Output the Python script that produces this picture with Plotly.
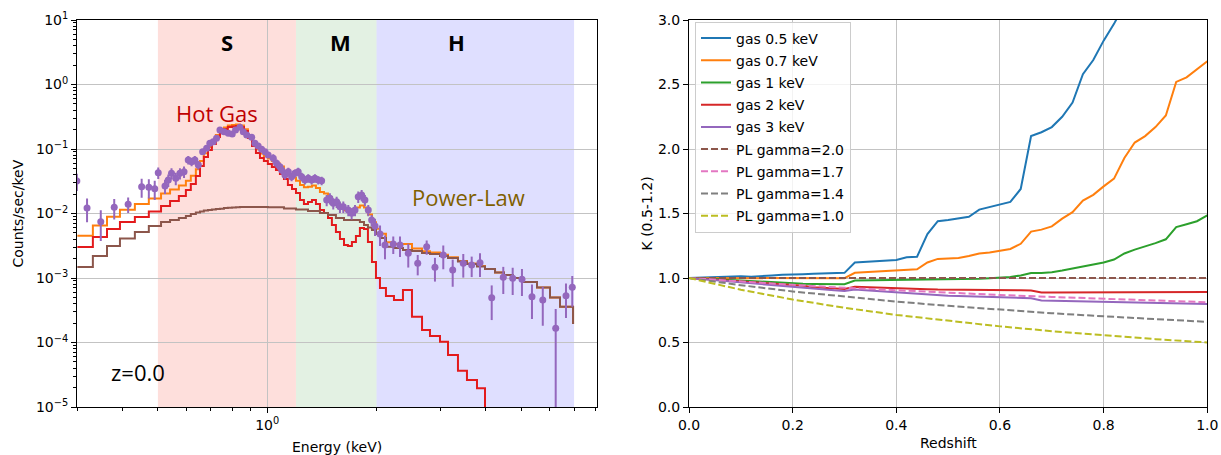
import math
import plotly.graph_objects as go

# ---------------- Left panel: spectrum ----------------
bin_lo_keV = [0.300, 0.331, 0.362, 0.393, 0.432, 0.472, 0.510, 0.540, 0.571, 0.597,
              0.616, 0.636, 0.653, 0.669, 0.687, 0.704, 0.722, 0.741, 0.760, 0.779,
              0.800, 0.820, 0.841, 0.863, 0.885, 0.908, 0.931, 0.955, 0.979, 1.004,
              1.030, 1.057, 1.084, 1.112, 1.140, 1.170, 1.200, 1.231, 1.262, 1.295,
              1.328, 1.362, 1.397, 1.433, 1.470, 1.507, 1.546, 1.586, 1.627, 1.668,
              1.711, 1.755, 1.800, 1.847, 1.894, 1.943, 1.993, 2.044, 2.123, 2.234,
              2.365, 2.504, 2.669, 2.807, 2.991, 3.147, 3.352, 3.549, 3.782, 3.979,
              4.240, 4.489, 4.753, 5.063, 5.534, 6.009, 6.403, 6.955]
bin_end_keV = 7.0

total_model = [0.00450, 0.00651, 0.00888, 0.01147, 0.01399, 0.01715, 0.0205, 0.0235, 0.0272, 0.0323,
               0.0384, 0.0485, 0.0653, 0.0863, 0.1078, 0.1315, 0.1647, 0.189, 0.216, 0.231,
               0.235, 0.240, 0.232, 0.203, 0.161, 0.124, 0.0993, 0.0851, 0.0778, 0.0710,
               0.0651, 0.0597, 0.0534, 0.0462, 0.0396, 0.0360, 0.0323, 0.0277, 0.0255, 0.0260,
               0.0271, 0.0249, 0.0215, 0.0204, 0.0180, 0.0161, 0.0137, 0.0125, 0.0112, 0.0111,
               0.0115, 0.0124, 0.0133, 0.0124, 0.00968, 0.00732, 0.00581, 0.00487, 0.00358, 0.00338,
               0.00337, 0.00287, 0.00260, 0.00249, 0.00229, 0.00210, 0.00184, 0.00168, 0.00153, 0.00138,
               0.00122, 0.00111, 0.00100, 0.000867, 0.000713, 0.000498, 0.000359, 0.000200]

gas_model = [0.00302, 0.00432, 0.00575, 0.00738, 0.00883, 0.01075, 0.0131, 0.0156, 0.0187, 0.0231,
             0.0286, 0.0381, 0.0545, 0.0752, 0.0965, 0.120, 0.153, 0.177, 0.204, 0.219,
             0.223, 0.227, 0.219, 0.190, 0.148, 0.111, 0.0867, 0.0725, 0.0652, 0.0585,
             0.0526, 0.0472, 0.0409, 0.0342, 0.0276, 0.0240, 0.0208, 0.0162, 0.0140, 0.0151,
             0.0162, 0.0140, 0.0113, 0.0102, 0.00852, 0.00663, 0.00516, 0.00402, 0.00324, 0.00313,
             0.00361, 0.00448, 0.00596, 0.00575, 0.00361, 0.00177, 0.00100, 0.00070, 0.000526, 0.000456,
             0.000652, 0.000251, 0.000156, 0.000126, 0.000103, 0.0000640, 0.0000366, 0.0000262, 0.0000195, 1e-7,
             1e-7, 1e-7, 1e-7, 1e-7, 1e-7, 1e-7, 1e-7, 1e-7]

powerlaw_model = [0.00148, 0.00219, 0.00313, 0.00409, 0.00516, 0.00640, 0.00738, 0.00793, 0.00852, 0.00915,
                  0.00982, 0.0104, 0.01075, 0.0111, 0.0113, 0.0115, 0.0117, 0.0119, 0.0122, 0.0123,
                  0.0124, 0.0125, 0.0126, 0.0126, 0.0126, 0.0126, 0.0126, 0.0126, 0.0126, 0.0125,
                  0.0125, 0.0125, 0.0125, 0.0120, 0.0120, 0.0120, 0.0115, 0.0115, 0.0115, 0.0109,
                  0.0109, 0.0109, 0.0102, 0.0102, 0.00948, 0.00948, 0.00852, 0.00852, 0.00793, 0.00793,
                  0.00793, 0.00793, 0.00738, 0.00663, 0.00607, 0.00555, 0.00481, 0.00417, 0.00305, 0.00292,
                  0.00272, 0.00262, 0.00244, 0.00236, 0.00219, 0.00204, 0.00180, 0.00165, 0.00151, 0.00138,
                  0.00122, 0.00111, 0.00100, 0.000867, 0.000713, 0.000498, 0.000359, 0.000200]

data_energy_keV = [0.299, 0.319, 0.348, 0.379, 0.414, 0.451, 0.472, 0.490, 0.501, 0.523,
                   0.534, 0.545, 0.560, 0.575, 0.590, 0.606, 0.619, 0.632, 0.646, 0.664,
                   0.681, 0.695, 0.710, 0.725, 0.741, 0.760, 0.781, 0.801, 0.818, 0.841,
                   0.859, 0.878, 0.906, 0.925, 0.944, 0.965, 0.986, 1.006, 1.039, 1.061,
                   1.084, 1.096, 1.119, 1.143, 1.167, 1.192, 1.217, 1.244, 1.270, 1.297,
                   1.325, 1.353, 1.382, 1.412, 1.458, 1.488, 1.520, 1.553, 1.586, 1.620,
                   1.672, 1.708, 1.745, 1.781, 1.820, 1.858, 1.898, 1.939, 1.981, 2.045,
                   2.110, 2.224, 2.321, 2.446, 2.597, 2.749, 2.897, 3.054, 3.242, 3.467,
                   3.657, 3.855, 4.152, 4.468, 4.743, 5.03, 5.36, 5.74, 6.23, 6.65, 6.92]
data_counts = [0.0319, 0.01217, 0.00746, 0.01247, 0.0139, 0.0261, 0.0255, 0.0242, 0.0429, 0.0267,
               0.033, 0.042, 0.0352, 0.042, 0.0445, 0.0675, 0.0635, 0.0675, 0.0565, 0.0908,
               0.1026, 0.1225, 0.130, 0.1466, 0.197, 0.1855, 0.175, 0.171, 0.197, 0.217,
               0.1855, 0.165, 0.152, 0.1225, 0.1114, 0.0989, 0.0908, 0.0807, 0.0718, 0.060,
               0.0532, 0.0472, 0.0395, 0.0445, 0.0372, 0.042, 0.0445, 0.0372, 0.033, 0.0352,
               0.033, 0.0352, 0.033, 0.0322, 0.0162, 0.0172, 0.0144, 0.0152, 0.01274, 0.01274,
               0.01132, 0.01007, 0.01132, 0.0182, 0.01936, 0.0162, 0.01132, 0.00792, 0.0064, 0.00481,
               0.00325, 0.00337, 0.00325, 0.00242, 0.00169, 0.00306, 0.001466, 0.002275, 0.00133, 0.00169,
               0.00159, 0.001727, 0.000495, 0.001026, 0.00099, 0.000955, 0.000513, 0.000456, 0.000166, 0.000532, 0.000718]
data_err_frac = [0.30, 0.40, 0.50, 0.35, 0.27, 0.33, 0.33, 0.33, 0.20, 0.25,
                 0.22, 0.20, 0.22, 0.20, 0.20, 0.15, 0.15, 0.15, 0.15, 0.08,
                 0.08, 0.08, 0.08, 0.08, 0.08, 0.08, 0.08, 0.08, 0.08, 0.08,
                 0.08, 0.08, 0.08, 0.08, 0.08, 0.08, 0.08, 0.08, 0.15, 0.15,
                 0.15, 0.15, 0.15, 0.15, 0.15, 0.15, 0.15, 0.15, 0.15, 0.15,
                 0.15, 0.15, 0.15, 0.15, 0.20, 0.20, 0.20, 0.20, 0.20, 0.20,
                 0.20, 0.20, 0.20, 0.20, 0.20, 0.20, 0.20, 0.20, 0.30, 0.35,
                 0.40, 0.30, 0.35, 0.40, 0.35, 0.25, 0.40, 0.40, 0.45, 0.40,
                 0.35, 0.40, 0.55, 0.45, 0.45, 0.45, 0.55, 0.60, 0.9999, 0.55, 0.50]

band_edges_keV = [0.5, 1.2, 2.0, 7.0]
band_names = ["S", "M", "H"]
band_label_keV = [0.775, 1.595, 3.33]
band_colors = ["rgba(250,128,114,0.25)", "rgba(0,128,0,0.11)", "rgba(0,0,255,0.125)"]

# ---------------- Right panel: K(0.5-1.2) vs redshift ----------------
z_gas = [0.00, 0.02, 0.04, 0.06, 0.08, 0.10, 0.12, 0.14, 0.16, 0.18,
         0.20, 0.22, 0.24, 0.26, 0.28, 0.30, 0.32, 0.34, 0.36, 0.38,
         0.40, 0.42, 0.44, 0.46, 0.48, 0.50, 0.52, 0.54, 0.56, 0.58,
         0.60, 0.62, 0.64, 0.66, 0.68, 0.70, 0.72, 0.74, 0.76, 0.78,
         0.80, 0.82, 0.84, 0.86, 0.88, 0.90, 0.92, 0.94, 0.96, 0.98, 1.00]
k_gas_05 = [1.000, 1.003, 1.006, 1.008, 1.011, 1.013, 1.009, 1.012, 1.020, 1.025,
            1.030, 1.030, 1.032, 1.033, 1.035, 1.040, 1.120, 1.125, 1.127, 1.130,
            1.140, 1.160, 1.165, 1.340, 1.440, 1.450, 1.460, 1.475, 1.530, 1.550,
            1.570, 1.590, 1.690, 2.100, 2.130, 2.170, 2.250, 2.360, 2.580, 2.690,
            2.840, 2.970, 3.120]
k_gas_07 = [1.000, 1.000, 0.998, 0.997, 0.996, 0.995, 0.995, 0.995, 0.995, 0.995,
            0.995, 0.995, 0.995, 0.995, 0.995, 0.998, 1.040, 1.045, 1.050, 1.055,
            1.060, 1.063, 1.068, 1.120, 1.148, 1.152, 1.156, 1.170, 1.190, 1.198,
            1.211, 1.225, 1.265, 1.360, 1.375, 1.400, 1.460, 1.510, 1.600, 1.645,
            1.710, 1.770, 1.930, 2.050, 2.100, 2.170, 2.260, 2.520, 2.555, 2.620, 2.680]
k_gas_1 = [1.000, 0.998, 0.995, 0.990, 0.985, 0.980, 0.976, 0.972, 0.968, 0.964,
           0.960, 0.955, 0.953, 0.952, 0.952, 0.952, 0.980, 0.981, 0.982, 0.982,
           0.983, 0.984, 0.985, 0.987, 0.988, 0.990, 0.991, 0.993, 0.995, 0.999,
           1.003, 1.008, 1.020, 1.038, 1.038, 1.045, 1.058, 1.072, 1.090, 1.105,
           1.120, 1.143, 1.190, 1.220, 1.243, 1.270, 1.300, 1.395, 1.417, 1.440, 1.485]
k_gas_2 = [1.000, 0.995, 0.990, 0.985, 0.980, 0.975, 0.970, 0.965, 0.960, 0.955,
           0.948, 0.940, 0.928, 0.922, 0.918, 0.915, 0.932, 0.930, 0.927, 0.924,
           0.920, 0.918, 0.915, 0.913, 0.910, 0.910, 0.909, 0.908, 0.907, 0.906,
           0.905, 0.905, 0.905, 0.903, 0.888, 0.888, 0.888, 0.888, 0.888, 0.888,
           0.888, 0.888, 0.888, 0.888, 0.889, 0.889, 0.890, 0.890, 0.891, 0.891, 0.892]
k_gas_3 = [1.000, 0.993, 0.986, 0.979, 0.972, 0.965, 0.958, 0.951, 0.944, 0.937,
           0.930, 0.922, 0.915, 0.910, 0.905, 0.900, 0.910, 0.905, 0.899, 0.893,
           0.888, 0.882, 0.876, 0.870, 0.865, 0.862, 0.860, 0.857, 0.855, 0.852,
           0.850, 0.848, 0.846, 0.843, 0.826, 0.824, 0.822, 0.820, 0.818, 0.816,
           0.814, 0.812, 0.810, 0.808, 0.806, 0.804, 0.803, 0.802, 0.801, 0.800, 0.799]

z_pl = [0.0, 0.1, 0.2, 0.3, 0.4, 0.5, 0.6, 0.7, 0.8, 0.9, 1.0]
k_pl_20 = [1.0, 1.0, 1.0, 1.0, 1.0, 1.0, 1.0, 1.0, 1.0, 1.0, 1.0]
k_pl_17 = [1.0, 0.972, 0.947, 0.924, 0.904, 0.885, 0.868, 0.853, 0.838, 0.825, 0.812]
k_pl_14 = [1.0, 0.944, 0.896, 0.855, 0.817, 0.784, 0.754, 0.727, 0.703, 0.680, 0.660]
k_pl_10 = [1.0, 0.909, 0.833, 0.769, 0.714, 0.667, 0.625, 0.588, 0.556, 0.526, 0.500]

FONT = "DejaVu Sans"
OVER = "Open Sans"
GRID = "#c3c3c3"

fig = go.Figure()


def steps(vals):
    return bin_lo_keV + [bin_end_keV], vals + [vals[-1]]


for vals, col in [(total_model, "#ff7f0e"), (gas_model, "#e31a1c"), (powerlaw_model, "#8c564b")]:
    sx, sy = steps(vals)
    fig.add_trace(go.Scatter(x=sx, y=sy, mode="lines", line=dict(shape="hv", color=col, width=2),
                             showlegend=False, xaxis="x", yaxis="y", hoverinfo="skip"))

err_up = [c * f for c, f in zip(data_counts, data_err_frac)]
fig.add_trace(go.Scatter(
    x=data_energy_keV, y=data_counts, mode="markers",
    marker=dict(color="#9467bd", size=7),
    error_y=dict(type="data", array=err_up, symmetric=True, color="#9467bd", thickness=2, width=0),
    showlegend=False, xaxis="x", yaxis="y"))

# right panel
gas_series = [("gas 0.5 keV", k_gas_05, "#1f77b4"), ("gas 0.7 keV", k_gas_07, "#ff7f0e"),
              ("gas 1 keV", k_gas_1, "#2ca02c"), ("gas 2 keV", k_gas_2, "#d62728"),
              ("gas 3 keV", k_gas_3, "#9467bd")]
for i, (name, vals, col) in enumerate(gas_series):
    fig.add_trace(go.Scatter(x=z_gas[:len(vals)], y=vals, mode="lines", name=name,
                             line=dict(color=col, width=2), xaxis="x2", yaxis="y2",
                             legendgroup=f"g{i}"))
pl_series = [("PL gamma=2.0", k_pl_20, "#8c564b"), ("PL gamma=1.7", k_pl_17, "#e377c2"),
             ("PL gamma=1.4", k_pl_14, "#7f7f7f"), ("PL gamma=1.0", k_pl_10, "#bcbd22")]
for i, (name, vals, col) in enumerate(pl_series):
    fig.add_trace(go.Scatter(x=z_pl, y=vals, mode="lines", name=name,
                             line=dict(color=col, width=2, dash="7px,3px"), xaxis="x2", yaxis="y2",
                             legendgroup=f"p{i}"))

shapes = []
for i in range(3):
    shapes.append(dict(type="rect", xref="x", yref="y domain", x0=band_edges_keV[i], x1=band_edges_keV[i + 1],
                       y0=0, y1=1, fillcolor=band_colors[i], line=dict(width=0), layer="below"))

annotations = []
for name, e in zip(band_names, band_label_keV):
    annotations.append(dict(x=math.log10(e), y=math.log10(4.5), xref="x", yref="y", text=f"<b>{name}</b>",
                            showarrow=False, font=dict(family=OVER, size=22, color="black")))
annotations.append(dict(x=math.log10(0.727), y=math.log10(0.368), xref="x", yref="y", text="Hot Gas",
                        showarrow=False, font=dict(family=OVER, size=22, color="#C00000")))
annotations.append(dict(x=math.log10(3.59), y=math.log10(0.018), xref="x", yref="y", text="Power-Law",
                        showarrow=False, font=dict(family=OVER, size=22, color="#7F6000")))
annotations.append(dict(x=math.log10(0.44), y=math.log10(3.5e-5), xref="x", yref="y", text="z=0.0",
                        showarrow=False, font=dict(family=OVER, size=22, color="black")))
# axis titles
title_font = dict(family=FONT, size=14, color="black")
annotations.append(dict(x=17 / 1221, y=0.5, xref="paper", yref="paper", text="Counts/sec/keV", textangle=-90,
                        xanchor="center", yanchor="middle", showarrow=False, font=title_font))
annotations.append(dict(x=337 / 1221, y=-40 / 387, xref="paper", yref="paper", text="Energy (keV)",
                        xanchor="center", yanchor="middle", showarrow=False, font=title_font))
annotations.append(dict(x=646 / 1221, y=0.5, xref="paper", yref="paper", text="K (0.5-1.2)", textangle=-90,
                        xanchor="center", yanchor="middle", showarrow=False, font=title_font))
annotations.append(dict(x=948 / 1221, y=-36 / 387, xref="paper", yref="paper", text="Redshift",
                        xanchor="center", yanchor="middle", showarrow=False, font=title_font))

y_major = [1e-5, 1e-4, 1e-3, 1e-2, 1e-1, 1, 10]
y_text = ["10<sup>\u22125</sup>", "10<sup>\u22124</sup>", "10<sup>\u22123</sup>", "10<sup>\u22122</sup>",
          "10<sup>\u22121</sup>", "10<sup>0</sup>", "10<sup>1</sup>"]
y_minor = [m * 10.0 ** d for d in range(-5, 1) for m in range(2, 10)]
x_minor = [0.3, 0.4, 0.5, 0.6, 0.7, 0.8, 0.9, 2, 3, 4, 5, 6, 7, 8]

axis_common = dict(showline=True, mirror=True, linecolor="black", linewidth=1, ticks="outside",
                   ticklen=5, tickcolor="black", showgrid=True, gridcolor=GRID, gridwidth=1,
                   zeroline=False, automargin=False,
                   tickfont=dict(family=FONT, size=14, color="black"))

fig.update_layout(
    width=1221, height=455,
    margin=dict(l=0, r=0, t=20, b=48, autoexpand=False),
    paper_bgcolor="white", plot_bgcolor="white",
    font=dict(family=FONT, size=14, color="black"),
    xaxis=dict(type="log", domain=[77 / 1221, 596.7 / 1221], range=[math.log10(0.2993), math.log10(8.08)],
               tickmode="array", tickvals=[1], ticktext=["10<sup>0</sup>"], anchor="y",
               minor=dict(tickmode="array", tickvals=x_minor, ticks="outside", ticklen=3,
                          tickcolor="black", showgrid=False), **axis_common),
    yaxis=dict(type="log", domain=[0, 1], range=[-5, 1], tickmode="array", tickvals=y_major,
               ticktext=y_text, anchor="x",
               minor=dict(tickmode="array", tickvals=y_minor, ticks="outside", ticklen=3,
                          tickcolor="black", showgrid=False), **axis_common),
    xaxis2=dict(domain=[689 / 1221, 1207.3 / 1221], range=[0, 1], tickmode="linear", tick0=0, dtick=0.2,
                tickformat=".1f", anchor="y2", **axis_common),
    yaxis2=dict(domain=[0, 1], range=[0, 3], tickmode="linear", tick0=0, dtick=0.5, tickformat=".1f",
                anchor="x2", **axis_common),
    legend=dict(x=695 / 1221, y=1 - 1.5 / 387, xanchor="left", yanchor="top",
                bgcolor="rgba(255,255,255,0.8)", bordercolor="#cccccc", borderwidth=1,
                font=dict(family=FONT, size=14, color="black"), itemwidth=30,
                tracegroupgap=1, traceorder="grouped"),
    shapes=shapes,
    annotations=annotations,
)

fig.write_html("out.html")
